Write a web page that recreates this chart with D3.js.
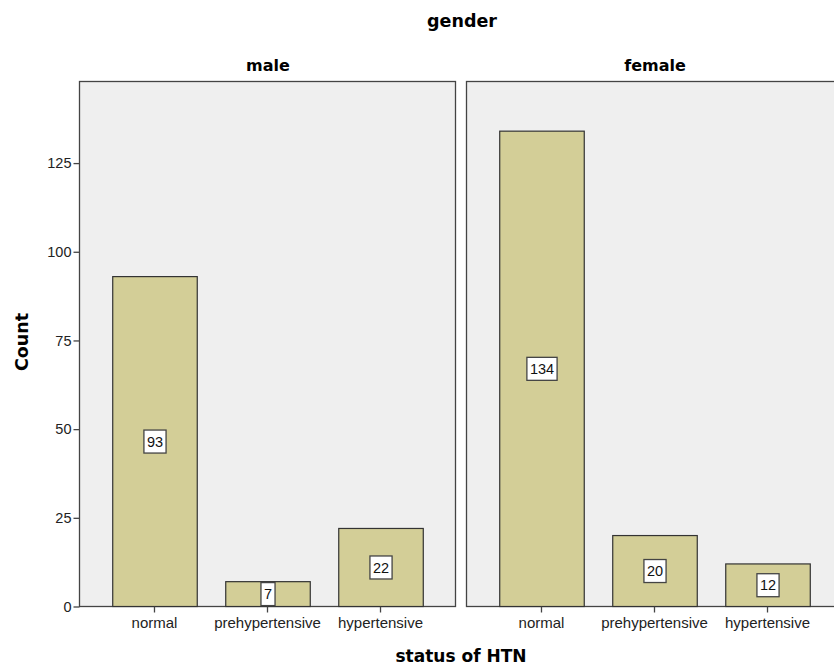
<!DOCTYPE html>
<html>
<head>
<meta charset="utf-8">
<script src="https://cdn.jsdelivr.net/npm/d3@7"></script>
<style>
  body { margin: 0; background: #fff; }
  text { font-family: Arial, "Liberation Sans", sans-serif; }
  .title { font-family: "DejaVu Sans", Verdana, sans-serif; font-weight: bold; }
</style>
</head>
<body>
<svg width="834" height="666"></svg>
<script>
const genders = ["male", "female"];
const statuses = ["normal", "prehypertensive", "hypertensive"];
const maleCounts = [93, 7, 22];
const femaleCounts = [134, 20, 12];
const yTicks = [0, 25, 50, 75, 100, 125];

const svg = d3.select("svg"),
  plotTop = 81,
  plotBottom = 606,
  panelW = 377;

const panelX = d3.scaleOrdinal().domain(genders).range([79, 466]);
const counts = { male: maleCounts, female: femaleCounts };

const yScale = d3.scaleLinear().domain([0, 148]).range([plotBottom, plotTop]);
const xScale = d3
  .scaleBand()
  .domain(statuses)
  .range([0, panelW])
  .paddingInner(0.252)
  .paddingOuter(0.294);

// titles
svg.append("text")
  .attr("class", "title")
  .attr("x", 462)
  .attr("y", 27)
  .attr("text-anchor", "middle")
  .attr("font-size", "17.5px")
  .text("gender");

svg.append("text")
  .attr("class", "title")
  .attr("x", 461)
  .attr("y", 662)
  .attr("text-anchor", "middle")
  .attr("font-size", "17px")
  .text("status of HTN");

svg.append("text")
  .attr("class", "title")
  .attr("transform", "translate(28, 342) rotate(-90)")
  .attr("text-anchor", "middle")
  .attr("font-size", "17.5px")
  .text("Count");

genders.forEach(gd => {
  const g = svg.append("g").attr("transform", `translate(${panelX(gd)}, 0)`);

  g.append("text")
    .attr("class", "title")
    .attr("x", panelW / 2 + 0.5)
    .attr("y", 71)
    .attr("text-anchor", "middle")
    .attr("font-size", "16px")
    .text(gd);

  g.append("rect")
    .attr("x", 0.5)
    .attr("y", plotTop + 0.5)
    .attr("width", panelW - 1)
    .attr("height", plotBottom - plotTop)
    .attr("fill", "#efefef")
    .attr("stroke", "#444")
    .attr("stroke-width", 1.3);

  const data = statuses.map((s, i) => ({ status: s, value: counts[gd][i] }));

  g.selectAll(".bar")
    .data(data)
    .enter()
    .append("rect")
    .attr("class", "bar")
    .attr("x", d => xScale(d.status) + 0.5)
    .attr("y", d => yScale(d.value) + 0.5)
    .attr("width", xScale.bandwidth())
    .attr("height", d => plotBottom - yScale(d.value))
    .attr("fill", "#d3ce97")
    .attr("stroke", "#333")
    .attr("stroke-width", 1.2);

  // x axis ticks + labels
  const xAxis = g.append("g")
    .attr("transform", `translate(0, ${plotBottom + 0.5})`)
    .call(d3.axisBottom(xScale).tickSize(6).tickPadding(5));
  xAxis.select(".domain").remove();
  xAxis.selectAll("line").attr("stroke", "#444").attr("stroke-width", 1.3);
  xAxis.selectAll("text")
    .attr("font-size", "15px")
    .attr("font-family", "Arial, 'Liberation Sans', sans-serif")
    .attr("fill", "#222");

  // value labels
  const lab = g.selectAll(".val")
    .data(data)
    .enter()
    .append("g")
    .attr("class", "val")
    .attr("transform", d => `translate(${xScale(d.status) + xScale.bandwidth() / 2 + 0.5}, ${(yScale(d.value) + plotBottom) / 2 + 0.5})`);

  lab.each(function (d) {
    const el = d3.select(this);
    const t = el.append("text")
      .attr("text-anchor", "middle")
      .attr("dy", "0.36em")
      .attr("font-size", "14.5px")
      .attr("fill", "#111")
      .text(d.value);
    const w = t.node().getComputedTextLength() + 6;
    el.insert("rect", "text")
      .attr("x", -w / 2)
      .attr("y", -11.5)
      .attr("width", w)
      .attr("height", 23)
      .attr("fill", "#fff")
      .attr("stroke", "#444")
      .attr("stroke-width", 1.3);
  });
});

// y axis
const yAxis = svg.append("g")
  .attr("transform", `translate(79.5, 0.5)`)
  .call(d3.axisLeft(yScale).tickValues(yTicks).tickSize(6).tickPadding(2));
yAxis.select(".domain").remove();
yAxis.selectAll("line").attr("stroke", "#444").attr("stroke-width", 1.3);
yAxis.selectAll("text")
  .attr("font-size", "14.5px")
  .attr("font-family", "Arial, 'Liberation Sans', sans-serif")
  .attr("fill", "#222");
</script>
</body>
</html>
